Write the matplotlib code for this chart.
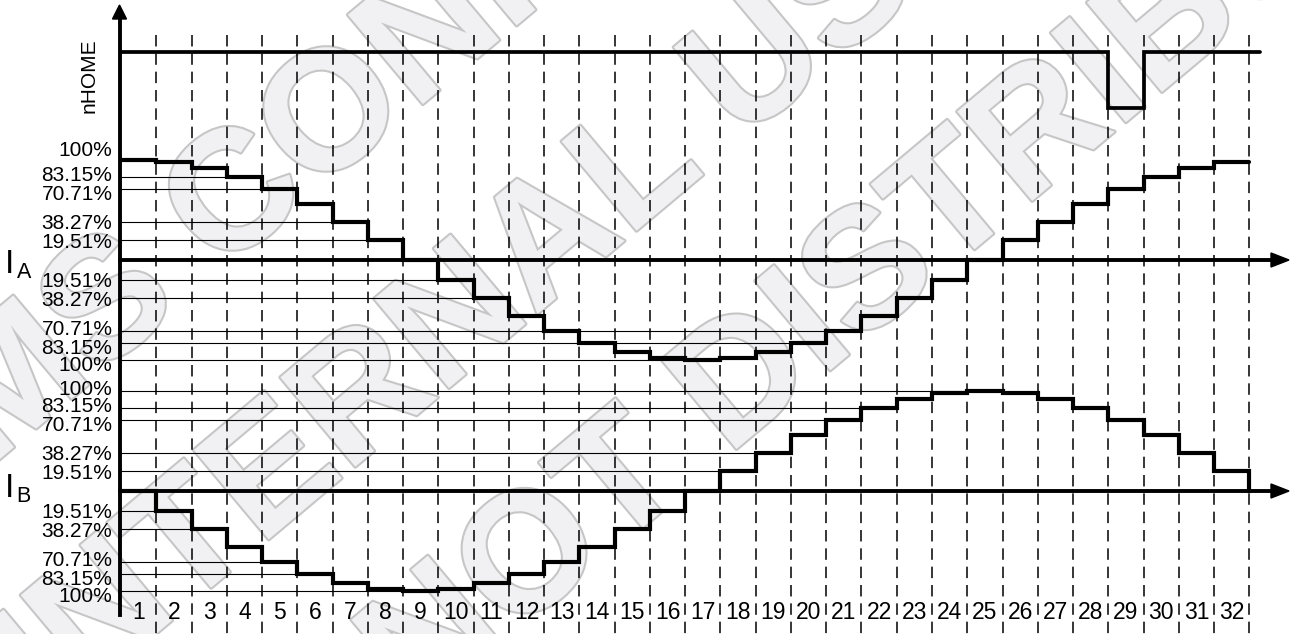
import numpy as np
import matplotlib.pyplot as plt
import matplotlib.patheffects as pe

plt.rcParams['font.family'] = ['Liberation Sans', 'DejaVu Sans']

# microstep data (percent of full current), step 1..32
steps = list(range(1, 33))
ia_pct = [100, 98.08, 92.39, 83.15, 70.71, 55.56, 38.27, 19.51,
          0, -19.51, -38.27, -55.56, -70.71, -83.15, -92.39, -98.08,
          -100, -98.08, -92.39, -83.15, -70.71, -55.56, -38.27, -19.51,
          0, 19.51, 38.27, 55.56, 70.71, 83.15, 92.39, 98.08]
ib_pct = [0, -19.51, -38.27, -55.56, -70.71, -83.15, -92.39, -98.08,
          -100, -98.08, -92.39, -83.15, -70.71, -55.56, -38.27, -19.51,
          0, 19.51, 38.27, 55.56, 70.71, 83.15, 92.39, 98.08,
          100, 98.08, 92.39, 83.15, 70.71, 55.56, 38.27, 19.51]
nhome = [1, 1, 1, 1, 1, 1, 1, 1, 1, 1, 1, 1, 1, 1, 1, 1,
         1, 1, 1, 1, 1, 1, 1, 1, 1, 1, 1, 1, 0, 1, 1, 1]

levels = [19.51, 38.27, 70.71, 83.15, 100]
level_labels = ['19.51%', '38.27%', '70.71%', '83.15%', '100%']

# step where each thin reference line stops
ia_pos_ends = [8, 7, 5, 4, None]
ia_neg_ends = [10, 11, 21, 20, 17]
ib_pos_ends = [18, 19, 21, 22, 25]
ib_neg_ends = [2, 3, 5, 6, 9]

watermark = ['AMS CONFIDENTIAL', 'INTERNAL USE', 'DO NOT DISTRIBUTE']

# layout (pixels)
W, H = 1291, 634
X0, DX = 121.0, 35.26
AXIS_PX = 119.5
IA_BASE = H - 260
IB_BASE = H - 491
NH_HI = H - 52
NH_LO = H - 108


def xp(px):
    return (px - X0) / DX


fig = plt.figure(figsize=(W / 100, H / 100), dpi=100)
ax = fig.add_axes([0, 0, 1, 1])
ax.set_xlim(xp(0), xp(W))
ax.set_ylim(0, H)
ax.axis('off')

# watermark
wm_starts = [(-105, 547), (51, 722), (187, 910)]
for txt, (sx, sy) in zip(watermark, wm_starts):
    ax.text(xp(sx), H - sy, txt, rotation=40, rotation_mode='anchor',
            ha='left', va='baseline', fontsize=122, fontweight='bold',
            color='#f1f1f3', zorder=0, clip_on=False,
            path_effects=[pe.withStroke(linewidth=3, foreground='#c6c6c6')])

# dashed step boundaries
for k in steps:
    ax.plot([k, k], [H - 35, 0], color='black', lw=1.1,
            ls=(0, (7.5, 4.5)), zorder=2)

# thin reference lines
xa = xp(AXIS_PX)
groups = [(IA_BASE, 1, ia_pos_ends), (IA_BASE, -1, ia_neg_ends),
          (IB_BASE, 1, ib_pos_ends), (IB_BASE, -1, ib_neg_ends)]
for base, sgn, ends in groups:
    for lev, end in zip(levels, ends):
        if end is None:
            continue
        ax.plot([xa, end], [base + sgn * lev] * 2, color='black', lw=0.8,
                zorder=3)

# level labels
nudge = {19.51: 0, 38.27: 0.5, 70.71: -3.5, 83.15: 3.5, 100: 3.5}
for base, sgn, ends in groups:
    for lev, lab in zip(levels, level_labels):
        off = lev + nudge[lev]
        if base == IA_BASE and sgn == 1 and lev == 100:
            off = 112
        ax.text(xp(112.5), base + sgn * off - 7.5, lab, ha='right',
                va='baseline', fontsize=15, zorder=6)

# traces
x_edges = np.arange(0, 33)
ia_y = IA_BASE + np.array(ia_pct + [ia_pct[-1]])
ib_y = IB_BASE + np.array(ib_pct + [0])
ax.step(x_edges, ia_y, where='post', color='black', lw=3.0, zorder=5,
        solid_capstyle='round', solid_joinstyle='miter')
ax.step(x_edges, ib_y, where='post', color='black', lw=3.0, zorder=5,
        solid_joinstyle='miter')

nh_x = list(range(0, 32)) + [xp(1260)]
nh_y = [NH_LO + (NH_HI - NH_LO) * v for v in nhome + [nhome[-1]]]
ax.step(nh_x, nh_y, where='post', color='black', lw=2.7, zorder=5,
        solid_capstyle='round', solid_joinstyle='miter')

# axes with arrows
ax.plot([xa, xa], [H - 615, H - 16], color='black', lw=2.8, zorder=6)
hw = 7 / DX
ax.fill([xa - hw, xa + hw, xa], [H - 19, H - 19, H - 5], color='black',
        zorder=6)
for base in (IA_BASE, IB_BASE):
    ax.plot([xa, xp(1274)], [base, base], color='black', lw=2.8, zorder=6)
    ax.fill([xp(1271), xp(1271), xp(1289)], [base + 7, base - 7, base],
            color='black', zorder=6)

# step numbers
for k in steps:
    ax.text(k - 0.5, H - 619, str(k), ha='center', va='baseline',
            fontsize=16.5, zorder=6)

# signal names
ax.text(xp(5), H - 273, 'I', fontsize=24, ha='left', va='baseline')
ax.text(xp(16.5), H - 278, 'A', fontsize=15.5, ha='left', va='baseline')
ax.text(xp(5), H - 497, 'I', fontsize=24, ha='left', va='baseline')
ax.text(xp(16.5), H - 502, 'B', fontsize=15.5, ha='left', va='baseline')
ax.text(xp(89), H - 75.5, 'nHOME', rotation=90, ha='center', va='center',
        fontsize=15)

fig.savefig('out.png', dpi=100)
